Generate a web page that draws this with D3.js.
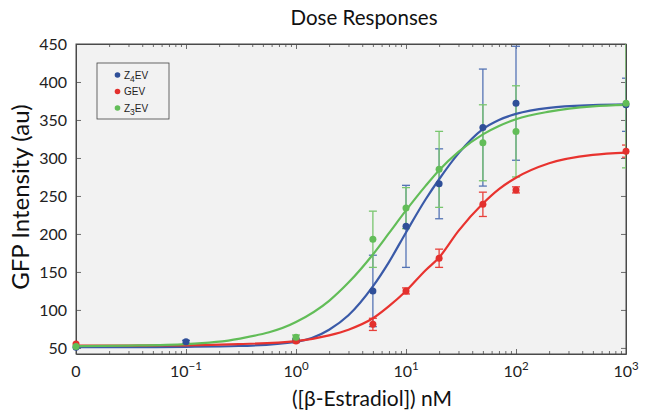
<!DOCTYPE html>
<html><head><meta charset="utf-8">
<script src="https://cdn.jsdelivr.net/npm/d3@7"></script>
<style>
html,body{margin:0;padding:0;background:#fff;}
svg{display:block;}
</style></head>
<body><svg id="chart" width="666" height="416"></svg>
<script>
// ---- data ----
const xTickValues = [0, 0.1, 1, 10, 100, 1000];
const xTickBase = ["0", "10", "10", "10", "10", "10"];
const xTickExp = ["", "\u22121", "0", "1", "2", "3"];
const yTickValues = [50, 100, 150, 200, 250, 300, 350, 400, 450];

const seriesNames = ["Z4EV", "GEV", "Z3EV"];

const z4evDose = [0, 0.1, 1, 5, 10, 20, 50, 100, 1000];
const z4evMean = [51, 58, 60, 125, 210, 266, 340, 372, 370];
const z4evErr  = [0, 2, 2, 47, 54, 46, 77, 75, 35];

const gevDose = [0, 1, 5, 10, 20, 50, 100, 1000];
const gevMean = [55, 59, 81, 125, 168, 239, 258, 309];
const gevErr  = [0, 2, 8, 4, 12, 16, 4, 8];

const z3evDose = [0, 1, 5, 10, 20, 50, 100, 1000];
const z3evMean = [52, 64, 193, 234, 285, 320, 335, 372];
const z3evErr  = [0, 3, 37, 27, 50, 50, 60, 85];

// fitted curves
const fitDose = [0.01, 0.03, 0.1, 0.3, 1, 2, 3, 5, 7, 10, 15, 20, 30, 50, 70, 100, 200, 500, 1000];
const z4evFit = [51, 51, 51.4, 52.5, 58, 74, 93, 131, 163, 202, 245, 272, 306, 338, 350, 358, 366, 369.5, 370.5];
const gevFit  = [53, 53.1, 53.4, 55, 59, 66.6, 74, 89, 105, 125, 152, 169, 204, 240, 259, 274, 293, 304, 307];
const z3evFit = [52.3, 53, 55, 62, 84, 112, 136, 173, 201, 231, 263, 284, 308, 331, 342, 351, 361, 368, 370];

// ---- layout ----
const L = 76, R = 626, T = 44, B = 354;
const FONT = "Lato, 'Open Sans', sans-serif";
const svg = d3.select("#chart");
const x = d3.scaleLog().domain([0.01, 1000]).range([L, R]);
const y = d3.scaleLinear().domain([42, 450]).range([B, T]);
const xv = d => x(d === 0 ? 0.01 : d);

const series = [
  {name: "Z4EV", dose: z4evDose, mean: z4evMean, err: z4evErr, fit: z4evFit, line: "#3a5aa8", dot: "#2f4f98", bar: "#5574b5"},
  {name: "GEV",  dose: gevDose,  mean: gevMean,  err: gevErr,  fit: gevFit,  line: "#e8332f", dot: "#e3302d", bar: "#e8403a"},
  {name: "Z3EV", dose: z3evDose, mean: z3evMean, err: z3evErr, fit: z3evFit, line: "#62bd58", dot: "#62bd58", bar: "#79c66e"}
];

svg.append("defs").append("clipPath").attr("id", "clip")
  .append("rect").attr("x", L).attr("y", T).attr("width", R - L).attr("height", B - T);

svg.append("rect").attr("x", L).attr("y", T).attr("width", R - L).attr("height", B - T)
  .attr("fill", "#f2f2f2");

const minor = [];
for (let e = -2; e < 3; e++) for (let k = 2; k <= 9; k++) minor.push(k * Math.pow(10, e));

const axisColor = "#4a4a4a";
function styleAxis(g) {
  g.selectAll("path.domain").attr("stroke", axisColor).attr("stroke-width", 1);
  g.selectAll(".tick line").attr("stroke", axisColor).attr("stroke-width", 0.8);
}
const majorX = xTickValues.map(v => v === 0 ? 0.01 : v);
const gxb = svg.append("g").attr("transform", `translate(0,${B})`)
  .call(d3.axisBottom(x).tickValues(majorX).tickSizeInner(-5).tickSizeOuter(0).tickFormat(""));
styleAxis(gxb);
const gxbm = svg.append("g").attr("transform", `translate(0,${B})`)
  .call(d3.axisBottom(x).tickValues(minor).tickSizeInner(-3).tickSizeOuter(0).tickFormat(""));
styleAxis(gxbm); gxbm.select("path.domain").remove();
const gxt = svg.append("g").attr("transform", `translate(0,${T})`)
  .call(d3.axisTop(x).tickValues(majorX).tickSizeInner(-5).tickSizeOuter(0).tickFormat(""));
styleAxis(gxt);
const gxtm = svg.append("g").attr("transform", `translate(0,${T})`)
  .call(d3.axisTop(x).tickValues(minor).tickSizeInner(-3).tickSizeOuter(0).tickFormat(""));
styleAxis(gxtm); gxtm.select("path.domain").remove();
const gyl = svg.append("g").attr("transform", `translate(${L},0)`)
  .call(d3.axisLeft(y).tickValues(yTickValues).tickSizeInner(-5).tickSizeOuter(0).tickPadding(9));
styleAxis(gyl);
gyl.selectAll(".tick text").attr("font-family", FONT).attr("font-size", 16).attr("fill", "#222");
const gyr = svg.append("g").attr("transform", `translate(${R},0)`)
  .call(d3.axisRight(y).tickValues(yTickValues).tickSizeInner(-5).tickSizeOuter(0).tickFormat(""));
styleAxis(gyr);
svg.append("rect").attr("x", L).attr("y", T).attr("width", R - L).attr("height", B - T)
  .attr("fill", "none").attr("stroke", axisColor).attr("stroke-width", 1);

// x tick labels with superscripts
const xl = svg.append("g");
xTickValues.forEach((v, i) => {
  const t = xl.append("text").attr("x", xv(v)).attr("y", 377).attr("text-anchor", "middle")
    .attr("font-family", FONT).attr("font-size", 16).attr("fill", "#222");
  t.append("tspan").text(xTickBase[i]);
  if (xTickExp[i]) t.append("tspan").attr("dy", -7).attr("font-size", 11.5).text(xTickExp[i]);
});

const lineGen = d3.line().x((d, i) => x(fitDose[i])).y(d => y(d)).curve(d3.curveMonotoneX);
const plotG = svg.append("g").attr("clip-path", "url(#clip)");

series.forEach(s => {
  const g = plotG.append("g");
  s.dose.forEach((d, i) => {
    if (!s.err[i]) return;
    const cx = xv(d), y1 = y(s.mean[i] + s.err[i]), y0 = y(s.mean[i] - s.err[i]);
    g.append("line").attr("x1", cx).attr("x2", cx).attr("y1", y0).attr("y2", y1)
      .attr("stroke", s.bar).attr("stroke-width", 1.3);
    [y0, y1].forEach(yy => g.append("line").attr("x1", cx - 4).attr("x2", cx + 4).attr("y1", yy).attr("y2", yy)
      .attr("stroke", s.bar).attr("stroke-width", 1.3));
  });
});
series.forEach(s => {
  plotG.append("path").attr("d", lineGen(s.fit)).attr("fill", "none")
    .attr("stroke", s.line).attr("stroke-width", 2.2);
});
series.forEach(s => {
  svg.append("g").selectAll("circle").data(s.dose).join("circle")
    .attr("cx", d => xv(d)).attr("cy", (d, i) => y(s.mean[i])).attr("r", 3.5)
    .attr("fill", s.dot);
});

// legend
const lg = svg.append("g");
lg.append("rect").attr("x", 97).attr("y", 63).attr("width", 72).attr("height", 56)
  .attr("fill", "#f2f2f2").attr("stroke", "#444").attr("stroke-width", 0.8);
const legendSub = ["4", "", "3"];
series.forEach((s, i) => {
  const yy = 75 + i * 16.5;
  lg.append("circle").attr("cx", 117.5).attr("cy", yy).attr("r", 2.8).attr("fill", s.dot);
  const t = lg.append("text").attr("x", 124).attr("y", yy + 3.6)
    .attr("font-family", "'Liberation Sans', Arial, sans-serif").attr("font-size", 10).attr("fill", "#222");
  if (legendSub[i]) {
    t.append("tspan").text("Z");
    t.append("tspan").attr("dy", 3.5).attr("font-size", 8.5).text(legendSub[i]);
    t.append("tspan").attr("dy", -3.5).text("EV");
  } else {
    t.append("tspan").text(s.name);
  }
});

// titles
svg.append("text").attr("x", 364).attr("y", 25).attr("text-anchor", "middle")
  .attr("font-family", FONT).attr("font-size", 20.5).attr("fill", "#111").text("Dose Responses");
svg.append("text").attr("x", 372).attr("y", 406).attr("text-anchor", "middle")
  .attr("font-family", FONT).attr("font-size", 21).attr("fill", "#111").text("([\u03b2-Estradiol]) nM");
svg.append("text").attr("transform", `translate(29,197) rotate(-90)`).attr("text-anchor", "middle")
  .attr("font-family", FONT).attr("font-size", 24).attr("fill", "#111").text("GFP Intensity (au)");
</script></body></html>
